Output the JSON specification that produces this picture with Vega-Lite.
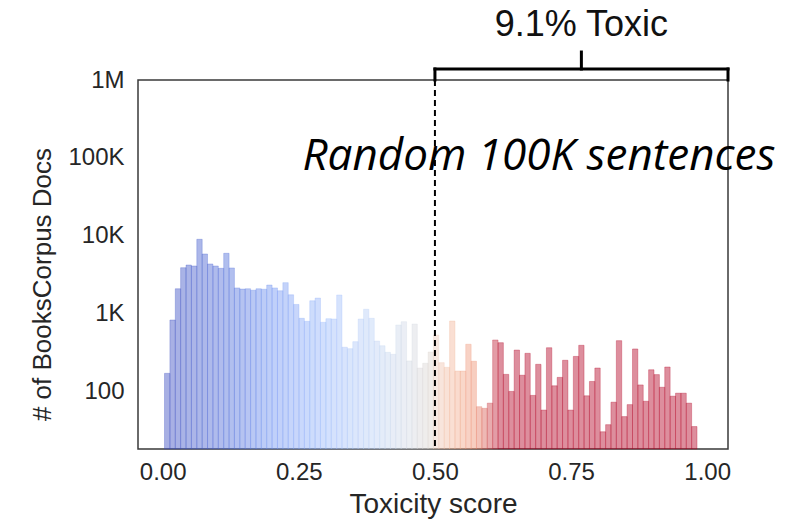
{
  "$schema": "https://vega.github.io/schema/vega-lite/v6.json",
  "autosize": {"type": "none"},
  "padding": {"left": 138, "top": 80, "right": 74, "bottom": 73},
  "width": 590,
  "height": 369,
  "background": "white",
  "config": {
    "view": {"stroke": "#3a3a3a", "strokeWidth": 1.5},
    "font": "Liberation Sans",
    "axis": {"grid": false, "domain": false, "ticks": false, "labelColor": "#262626", "titleColor": "#262626", "labelFont": "Liberation Sans", "titleFont": "Liberation Sans", "titleFontWeight": "normal"}
  },
  "layer": [
    {
      "data": {"values": [
        {"x0":0.0033,"x1":0.0132,"count":169},{"x0":0.0132,"x1":0.0231,"count":820},{"x0":0.0231,"x1":0.0329,"count":2070},{"x0":0.0329,"x1":0.0428,"count":3860},{"x0":0.0428,"x1":0.0527,"count":4180},
        {"x0":0.0527,"x1":0.0626,"count":4060},{"x0":0.0626,"x1":0.0725,"count":8950},{"x0":0.0725,"x1":0.0823,"count":5790},{"x0":0.0823,"x1":0.0922,"count":4310},{"x0":0.0922,"x1":0.1021,"count":4060},
        {"x0":0.1021,"x1":0.1120,"count":3790},{"x0":0.1120,"x1":0.1219,"count":5910},{"x0":0.1219,"x1":0.1317,"count":3830},{"x0":0.1317,"x1":0.1416,"count":2120},{"x0":0.1416,"x1":0.1515,"count":2050},
        {"x0":0.1515,"x1":0.1614,"count":2070},{"x0":0.1614,"x1":0.1713,"count":1980},{"x0":0.1713,"x1":0.1811,"count":2070},{"x0":0.1811,"x1":0.1910,"count":2040},{"x0":0.1910,"x1":0.2009,"count":2310},
        {"x0":0.2009,"x1":0.2108,"count":2120},{"x0":0.2108,"x1":0.2207,"count":1950},{"x0":0.2207,"x1":0.2305,"count":2480},{"x0":0.2305,"x1":0.2404,"count":1730},{"x0":0.2404,"x1":0.2503,"count":1300},
        {"x0":0.2503,"x1":0.2602,"count":863},{"x0":0.2602,"x1":0.2701,"count":789},{"x0":0.2701,"x1":0.2799,"count":1450},{"x0":0.2799,"x1":0.2898,"count":1570},{"x0":0.2898,"x1":0.2997,"count":766},
        {"x0":0.2997,"x1":0.3096,"count":853},{"x0":0.3096,"x1":0.3195,"count":845},{"x0":0.3195,"x1":0.3293,"count":1720},{"x0":0.3293,"x1":0.3392,"count":366},{"x0":0.3392,"x1":0.3491,"count":351},
        {"x0":0.3491,"x1":0.3590,"count":432},{"x0":0.3590,"x1":0.3689,"count":845},{"x0":0.3689,"x1":0.3787,"count":1127},{"x0":0.3787,"x1":0.3886,"count":863},{"x0":0.3886,"x1":0.3985,"count":440},
        {"x0":0.3985,"x1":0.4084,"count":383},{"x0":0.4084,"x1":0.4183,"count":315},{"x0":0.4183,"x1":0.4281,"count":297},{"x0":0.4281,"x1":0.4380,"count":708},{"x0":0.4380,"x1":0.4479,"count":780},
        {"x0":0.4479,"x1":0.4578,"count":244},{"x0":0.4578,"x1":0.4677,"count":729},{"x0":0.4677,"x1":0.4775,"count":198},{"x0":0.4775,"x1":0.4874,"count":228},{"x0":0.4874,"x1":0.4973,"count":318},
        {"x0":0.4973,"x1":0.5072,"count":526},{"x0":0.5072,"x1":0.5171,"count":232},{"x0":0.5171,"x1":0.5269,"count":202},{"x0":0.5269,"x1":0.5368,"count":796},{"x0":0.5368,"x1":0.5467,"count":181},
        {"x0":0.5467,"x1":0.5566,"count":181},{"x0":0.5566,"x1":0.5665,"count":400},{"x0":0.5665,"x1":0.5763,"count":242},{"x0":0.5763,"x1":0.5862,"count":63},{"x0":0.5862,"x1":0.5961,"count":60},
        {"x0":0.5961,"x1":0.6060,"count":70},{"x0":0.6060,"x1":0.6159,"count":454},{"x0":0.6159,"x1":0.6257,"count":419},{"x0":0.6257,"x1":0.6356,"count":164},{"x0":0.6356,"x1":0.6455,"count":99},
        {"x0":0.6455,"x1":0.6554,"count":337},{"x0":0.6554,"x1":0.6653,"count":160},{"x0":0.6653,"x1":0.6751,"count":306},{"x0":0.6751,"x1":0.6850,"count":88},{"x0":0.6850,"x1":0.6949,"count":221},
        {"x0":0.6949,"x1":0.7048,"count":57},{"x0":0.7048,"x1":0.7147,"count":361},{"x0":0.7147,"x1":0.7245,"count":117},{"x0":0.7245,"x1":0.7344,"count":150},{"x0":0.7344,"x1":0.7443,"count":249},
        {"x0":0.7443,"x1":0.7542,"count":57},{"x0":0.7542,"x1":0.7641,"count":279},{"x0":0.7641,"x1":0.7739,"count":388},{"x0":0.7739,"x1":0.7838,"count":87},{"x0":0.7838,"x1":0.7937,"count":133},
        {"x0":0.7937,"x1":0.8036,"count":198},{"x0":0.8036,"x1":0.8135,"count":30},{"x0":0.8135,"x1":0.8233,"count":37},{"x0":0.8233,"x1":0.8332,"count":72},{"x0":0.8332,"x1":0.8431,"count":445},
        {"x0":0.8431,"x1":0.8530,"count":47},{"x0":0.8530,"x1":0.8629,"count":67},{"x0":0.8629,"x1":0.8727,"count":348},{"x0":0.8727,"x1":0.8826,"count":120},{"x0":0.8826,"x1":0.8925,"count":74},
        {"x0":0.8925,"x1":0.9024,"count":188},{"x0":0.9024,"x1":0.9123,"count":163},{"x0":0.9123,"x1":0.9221,"count":112},{"x0":0.9221,"x1":0.9320,"count":204},{"x0":0.9320,"x1":0.9419,"count":86},
        {"x0":0.9419,"x1":0.9518,"count":94},{"x0":0.9518,"x1":0.9617,"count":94},{"x0":0.9617,"x1":0.9715,"count":70},{"x0":0.9715,"x1":0.9814,"count":35}
      ]},
      "mark": {"type": "rect", "fillOpacity": 0.45, "strokeOpacity": 0.3, "strokeWidth": 1},
      "encoding": {
        "x": {"field": "x0", "type": "quantitative", "scale": {"domain": [-0.0454, 1.0383], "nice": false, "zero": false},
              "axis": {"values": [0, 0.25, 0.5, 0.75, 1], "format": ".2f", "title": "Toxicity score", "labelFontSize": 24, "titleFontSize": 28, "labelPadding": 11, "titlePadding": 6}},
        "x2": {"field": "x1"},
        "y": {"field": "count", "type": "quantitative", "scale": {"type": "log", "domain": [18, 1000000], "nice": false},
              "axis": {"values": [100, 1000, 10000, 100000, 1000000], "labelExpr": "datum.value >= 1000000 ? '1M' : (datum.value >= 1000 ? format(datum.value/1000, 'd') + 'K' : format(datum.value, 'd'))", "title": "# of BooksCorpus Docs", "labelFontSize": 24, "titleFontSize": 26, "labelPadding": 14, "titlePadding": 12, "titleY": 204}},
        "y2": {"datum": 18},
        "color": {"field": "x0", "type": "quantitative", "legend": null,
                  "scale": {"type": "linear", "interpolate": "rgb", "domain": [0, 0.12, 0.2, 0.3, 0.38, 0.45, 0.49, 0.5, 0.53, 0.57, 0.6, 0.615, 1],
                            "range": ["#3b4cc0", "#5270db", "#7396f3", "#9dbcfc", "#bdd2f6", "#d6dce6", "#ddd3cc", "#efcab8", "#f4b79a", "#ec8f70", "#c83a45", "#b40426", "#b40426"]}},
        "stroke": {"field": "x0", "type": "quantitative", "legend": null,
                  "scale": {"type": "linear", "interpolate": "rgb", "domain": [0, 0.12, 0.2, 0.3, 0.38, 0.45, 0.49, 0.5, 0.53, 0.57, 0.6, 0.615, 1],
                            "range": ["#3b4cc0", "#5270db", "#7396f3", "#9dbcfc", "#bdd2f6", "#d6dce6", "#ddd3cc", "#efcab8", "#f4b79a", "#ec8f70", "#c83a45", "#b40426", "#b40426"]}}
      }
    },
    {
      "data": {"values": [{"t": 0.5}]},
      "mark": {"type": "rule", "color": "black", "strokeWidth": 2, "strokeDash": [6, 4]},
      "encoding": {"x": {"field": "t", "type": "quantitative"}}
    },
    {
      "data": {"values": [
        {"a": 0.5, "b": 1.0383, "y": 1385000, "y2": 1385000},
        {"a": 0.5, "b": 0.5, "y": 1385000, "y2": 1000000},
        {"a": 1.0383, "b": 1.0383, "y": 1385000, "y2": 1000000},
        {"a": 0.769, "b": 0.769, "y": 2290000, "y2": 1385000}
      ]},
      "mark": {"type": "rule", "color": "black", "strokeWidth": 3, "strokeCap": "square"},
      "encoding": {
        "x": {"field": "a", "type": "quantitative"},
        "x2": {"field": "b"},
        "y": {"field": "y", "type": "quantitative"},
        "y2": {"field": "y2"}
      }
    },
    {
      "data": {"values": [
        {"tx": 0.769, "ty": 5170000, "label": "9.1% Toxic"}
      ]},
      "mark": {"type": "text", "font": "Liberation Sans", "fontSize": 36, "color": "#111", "align": "center", "baseline": "middle"},
      "encoding": {
        "x": {"field": "tx", "type": "quantitative"},
        "y": {"field": "ty", "type": "quantitative"},
        "text": {"field": "label"}
      }
    },
    {
      "data": {"values": [
        {"tx": 0.691, "ty": 102000, "label": "Random 100K sentences"}
      ]},
      "mark": {"type": "text", "font": "Open Sans", "fontStyle": "italic", "fontSize": 44, "color": "black", "align": "center", "baseline": "middle"},
      "encoding": {
        "x": {"field": "tx", "type": "quantitative"},
        "y": {"field": "ty", "type": "quantitative"},
        "text": {"field": "label"}
      }
    }
  ]
}
